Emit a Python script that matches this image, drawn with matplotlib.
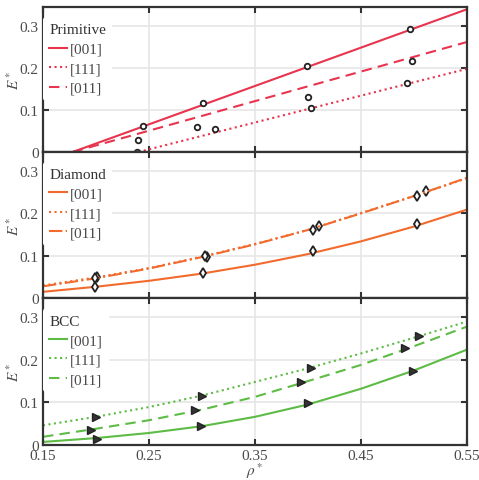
import numpy as np
import matplotlib
matplotlib.use("Agg")
import matplotlib.pyplot as plt

plt.rcParams['font.family'] = ['Liberation Serif', 'DejaVu Serif']
plt.rcParams['mathtext.fontset'] = 'stix'

# Primitive: straight fit lines (end points) and measured points
prim_line_x = {"[001]": [0.178, 0.55], "[111]": [0.240, 0.55], "[011]": [0.178, 0.55]}
prim_line_y = {"[001]": [0.0, 0.340], "[111]": [0.0, 0.198], "[011]": [0.0, 0.262]}
prim_pts_x = {"[001]": [0.244, 0.301, 0.399, 0.496],
              "[111]": [0.239, 0.312, 0.403, 0.493],
              "[011]": [0.240, 0.295, 0.400, 0.498]}
prim_pts_y = {"[001]": [0.062, 0.117, 0.205, 0.293],
              "[111]": [0.000, 0.055, 0.105, 0.165],
              "[011]": [0.029, 0.060, 0.131, 0.217]}

# curve samples for Diamond and BCC
curve_x = [0.15, 0.20, 0.25, 0.30, 0.35, 0.40, 0.45, 0.50, 0.55]
dia_curve = {"[001]": [0.015, 0.027, 0.041, 0.058, 0.079, 0.104, 0.134, 0.169, 0.209],
             "[111]": [0.030, 0.049, 0.071, 0.098, 0.128, 0.161, 0.201, 0.241, 0.283],
             "[011]": [0.028, 0.047, 0.070, 0.097, 0.127, 0.161, 0.200, 0.241, 0.284]}
dia_pts_x = {"[001]": [0.199, 0.301, 0.405, 0.503],
             "[111]": [0.201, 0.305, 0.410, 0.511],
             "[011]": [0.199, 0.303, 0.405, 0.503]}
dia_pts_y = {"[001]": [0.027, 0.060, 0.112, 0.174],
             "[111]": [0.050, 0.096, 0.171, 0.252],
             "[011]": [0.048, 0.100, 0.162, 0.240]}

bcc_curve = {"[001]": [0.007, 0.016, 0.028, 0.044, 0.066, 0.095, 0.132, 0.175, 0.224],
             "[111]": [0.046, 0.066, 0.089, 0.116, 0.148, 0.180, 0.215, 0.252, 0.290],
             "[011]": [0.019, 0.038, 0.058, 0.083, 0.113, 0.150, 0.188, 0.232, 0.278]}
bcc_pts_x = {"[001]": [0.201, 0.299, 0.400, 0.499],
             "[111]": [0.200, 0.300, 0.403, 0.505],
             "[011]": [0.195, 0.293, 0.393, 0.492]}
bcc_pts_y = {"[001]": [0.015, 0.044, 0.099, 0.174],
             "[111]": [0.065, 0.116, 0.181, 0.256],
             "[011]": [0.036, 0.082, 0.147, 0.228]}

dirs = ["[001]", "[111]", "[011]"]
xticks = [0.15, 0.25, 0.35, 0.45, 0.55]
xtick_labels = ["0.15", "0.25", "0.35", "0.45", "0.55"]
yticks = [0, 0.1, 0.2, 0.3]
ytick_labels = ["0", "0.1", "0.2", "0.3"]

fig = plt.figure(figsize=(4.79, 4.81), dpi=100)
left, width = 0.0898, 0.885
bounds = [0.983, 0.682, 0.378, 0.073]
axes = []
for i in range(3):
    ax = fig.add_axes([left, bounds[i + 1], width, bounds[i] - bounds[i + 1]])
    axes.append(ax)

edge = '#333333'
txt = '#4a4a4a'


def style(ax, show_x):
    ax.set_xlim(0.15, 0.55)
    ax.set_ylim(0, 0.345)
    ax.set_xticks(xticks)
    ax.set_yticks(yticks)
    ax.set_yticklabels(ytick_labels)
    ax.grid(True, color='#e6e6e6', linewidth=1.2)
    ax.set_axisbelow(True)
    ax.tick_params(direction='in', top=True, right=True, length=4, width=1.5,
                   colors=edge, labelcolor=txt, labelsize=11, pad=3)
    for s in ax.spines.values():
        s.set_color(edge)
        s.set_linewidth(1.6)
    if show_x:
        ax.set_xticklabels(xtick_labels)
        ax.set_xlabel(r"$\rho^*$", fontsize=11, color=txt)
        ax.xaxis.set_label_coords(0.5, -0.105)
    else:
        ax.set_xticklabels([])
    ax.set_ylabel(r"$E^*$", fontsize=11, color=txt)
    ax.yaxis.set_label_coords(-0.05, 0.5)


def legend(ax, title):
    leg = ax.legend(title=title, loc='upper left', bbox_to_anchor=(0.0, 0.93),
                    frameon=True, fontsize=11, title_fontsize=11,
                    handlelength=1.2, handletextpad=0.15, borderaxespad=0.0,
                    borderpad=0.4, labelspacing=0.38)
    leg.get_frame().set_edgecolor('none')
    leg.get_frame().set_facecolor('white')
    leg.get_frame().set_alpha(1)
    leg._legend_box.align = 'left'
    for t in leg.get_texts():
        t.set_color(txt)
    leg.get_title().set_color('#333333')


dash = (0, (5, 3))
styles = {"[001]": '-', "[111]": ':', "[011]": dash}

# Primitive
red = '#e8344e'
ax = axes[0]
for d in dirs:
    ax.plot(prim_line_x[d], prim_line_y[d], ls=styles[d], color=red, lw=1.5, label=d)
    ax.plot(prim_pts_x[d], prim_pts_y[d], 'o', ms=4, mfc='white', mec='#222222', mew=1.3,
            clip_on=False)
style(ax, False)
legend(ax, "Primitive")

# Diamond
orange = '#f26b2d'
ax = axes[1]
dia_styles = {"[001]": '-', "[111]": ':', "[011]": '-.'}
for d in dirs:
    ax.plot(curve_x, dia_curve[d], ls=dia_styles[d], color=orange, lw=1.5, label=d)
    ax.plot(dia_pts_x[d], dia_pts_y[d], 'd', ms=5, mfc='white', mec='#222222', mew=1.3)
style(ax, False)
legend(ax, "Diamond")

# BCC
green = '#5dbb46'
ax = axes[2]
for d in dirs:
    ax.plot(curve_x, bcc_curve[d], ls=styles[d], color=green, lw=1.5, label=d)
    ax.plot(bcc_pts_x[d], bcc_pts_y[d], '>', ms=5.5, mfc='#333333', mec='#222222', mew=1)
style(ax, True)
legend(ax, "BCC")

fig.savefig("out.png", dpi=100)
